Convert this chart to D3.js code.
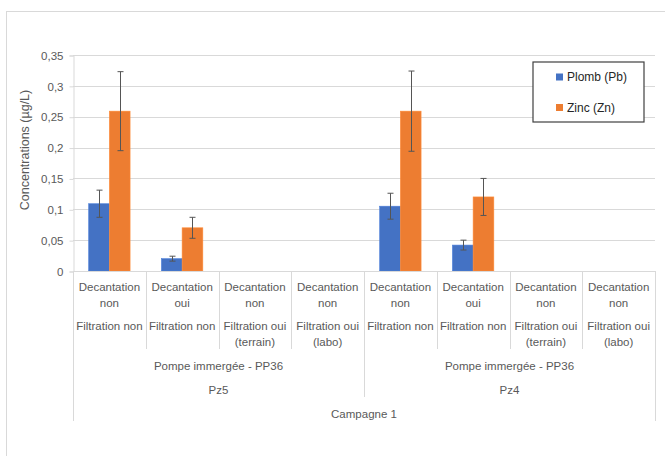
<!DOCTYPE html>
<html><head><meta charset="utf-8">
<script src="https://cdn.jsdelivr.net/npm/d3@7"></script>
<style>body{margin:0;background:#fff;}svg{display:block;font-family:"Liberation Sans",Arial,sans-serif;}</style>
</head><body>
<script>
const categories = ["c1","c2","c3","c4","c5","c6","c7","c8"];
const decantation = ["Decantation non","Decantation oui","Decantation non","Decantation non","Decantation non","Decantation oui","Decantation non","Decantation non"];
const filtration = [["Filtration non"],["Filtration non"],["Filtration oui","(terrain)"],["Filtration oui","(labo)"],["Filtration non"],["Filtration non"],["Filtration oui","(terrain)"],["Filtration oui","(labo)"]];
const groups = [{label:"Pompe immergée - PP36", site:"Pz5", from:0, to:3},{label:"Pompe immergée - PP36", site:"Pz4", from:4, to:7}];
const campagne = "Campagne 1";
const seriesNames = ["Plomb (Pb)","Zinc (Zn)"];
const plomb = [0.109, 0.020, null, null, 0.105, 0.042, null, null];
const plombErr = [0.022, 0.004, null, null, 0.021, 0.008, null, null];
const zinc = [0.259, 0.070, null, null, 0.259, 0.120, null, null];
const zincErr = [0.064, 0.017, null, null, 0.065, 0.030, null, null];
const yTicks = [0,0.05,0.1,0.15,0.2,0.25,0.3,0.35];
const yTickLabels = ["0","0,05","0,1","0,15","0,2","0,25","0,3","0,35"];
const colors = ["#4472C4","#ED7D31"];

const W=665,H=456;
const svg=d3.select("body").append("svg").attr("width",W).attr("height",H);
svg.append("rect").attr("x",6.5).attr("y",11.5).attr("width",W).attr("height",H).attr("fill","none").attr("stroke","#d9d9d9");

const L=73,R=655,T=55,B=271;
const x=d3.scaleBand().domain(categories).range([L,R]).paddingInner(0).paddingOuter(0);
const y=d3.scaleLinear().domain([0,0.35]).range([B,T]);
const xs=d3.scaleBand().domain([0,1]).range([0,x.bandwidth()]).paddingInner(0).paddingOuter(0.757);

const grid="#d9d9d9", txt="#595959";
svg.append("g").selectAll("line").data(yTicks.slice(1)).join("line")
 .attr("x1",L).attr("x2",R).attr("y1",d=>Math.round(y(d))+0.5).attr("y2",d=>Math.round(y(d))+0.5)
 .attr("stroke",grid).attr("stroke-width",1);
const yAxis=d3.axisLeft(y).tickValues(yTicks).tickFormat((d,i)=>yTickLabels[i]).tickSize(4).tickPadding(6);
const ya=svg.append("g").attr("transform",`translate(${L+0.5},0.5)`).call(yAxis);
ya.select(".domain").attr("stroke",grid);
ya.selectAll(".tick line").attr("stroke",grid);
ya.selectAll(".tick text").attr("fill",txt).style("font-size","11.5px").style("font-family","Liberation Sans, Arial, sans-serif");

const series=[{v:plomb,e:plombErr},{v:zinc,e:zincErr}];
series.forEach((s,si)=>{
  const g=svg.append("g");
  const dat=categories.map((c,i)=>({c,v:s.v[i],e:s.e[i]})).filter(d=>d.v!=null);
  g.selectAll("rect").data(dat).join("rect")
   .attr("x",d=>x(d.c)+xs(si)).attr("width",xs.bandwidth())
   .attr("y",d=>y(d.v)).attr("height",d=>y(0)-y(d.v))
   .attr("fill",colors[si]).attr("stroke",d3.color(colors[si]).brighter(0.3)).attr("stroke-width",0.6);
  const eg=g.selectAll("g.err").data(dat).join("g").attr("class","err");
  const cx=d=>Math.round(x(d.c)+xs(si)+xs.bandwidth()/2)+0.5;
  eg.append("line").attr("x1",cx).attr("x2",cx).attr("y1",d=>y(d.v+d.e)).attr("y2",d=>y(d.v-d.e)).attr("stroke","#555").attr("stroke-width",1);
  eg.append("line").attr("x1",d=>cx(d)-3).attr("x2",d=>cx(d)+3).attr("y1",d=>y(d.v+d.e)).attr("y2",d=>y(d.v+d.e)).attr("stroke","#555");
  eg.append("line").attr("x1",d=>cx(d)-3).attr("x2",d=>cx(d)+3).attr("y1",d=>y(d.v-d.e)).attr("y2",d=>y(d.v-d.e)).attr("stroke","#555");
});

const ax=svg.append("g");
ax.append("line").attr("x1",L).attr("x2",R).attr("y1",B+0.5).attr("y2",B+0.5).attr("stroke",grid);
categories.forEach((c,i)=>{
  if(i===0||i===4) return;
  const xx=Math.round(x(c))+0.5;
  ax.append("line").attr("x1",xx).attr("x2",xx).attr("y1",B).attr("y2",349).attr("stroke",grid);
});
const midX=Math.round(x(categories[4]))+0.5;
ax.append("line").attr("x1",midX).attr("x2",midX).attr("y1",B).attr("y2",397).attr("stroke",grid);
[L+0.5,R+0.5].forEach(xx=>ax.append("line").attr("x1",xx).attr("x2",xx).attr("y1",B).attr("y2",421).attr("stroke",grid));

const tstyle=sel=>sel.attr("fill",txt).attr("text-anchor","middle").style("font-size","11.5px").attr("dominant-baseline","central");
categories.forEach((c,i)=>{
  const cx=x(c)+x.bandwidth()/2;
  const parts=decantation[i].split(" ");
  tstyle(ax.append("text").attr("x",cx).attr("y",287).text(parts[0]));
  tstyle(ax.append("text").attr("x",cx).attr("y",302.5).text(parts[1]));
  filtration[i].forEach((t,j)=>tstyle(ax.append("text").attr("x",cx).attr("y",326+j*15.7).text(t)));
});
groups.forEach(g=>{
  const cx=(x(categories[g.from])+x(categories[g.to])+x.bandwidth())/2;
  tstyle(ax.append("text").attr("x",cx).attr("y",366).text(g.label));
  tstyle(ax.append("text").attr("x",cx).attr("y",389.5).text(g.site));
});
tstyle(ax.append("text").attr("x",(L+R)/2).attr("y",413.5).text(campagne));

svg.append("text").attr("transform","translate(25,150) rotate(-90)").attr("text-anchor","middle").attr("dominant-baseline","central")
 .attr("fill",txt).style("font-size","12.5px").text("Concentrations (µg/L)");

const lg=svg.append("g");
lg.append("rect").attr("x",533).attr("y",62).attr("width",111).attr("height",60).attr("fill","#fff").attr("stroke","#404040").attr("stroke-width",1.2);
seriesNames.forEach((n,i)=>{
  const yy=77+i*30.5;
  lg.append("rect").attr("x",556).attr("y",yy-3.5).attr("width",7).attr("height",7).attr("fill",colors[i]);
  lg.append("text").attr("x",567).attr("y",yy).attr("dominant-baseline","central").attr("fill","#262626").style("font-size","12px").text(n);
});
</script>
</body></html>
